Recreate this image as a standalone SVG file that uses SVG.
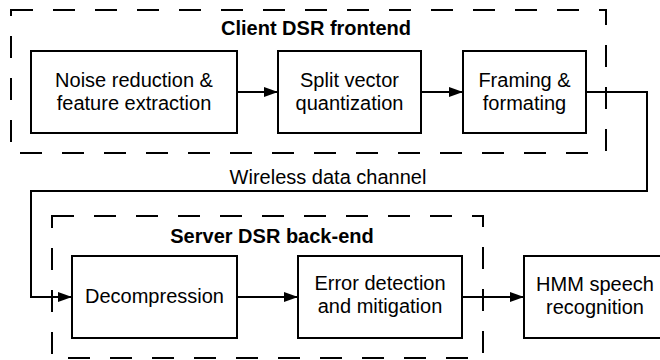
<svg xmlns="http://www.w3.org/2000/svg" width="660" height="360" viewBox="0 0 660 360">
<defs>
<marker id="ah" markerWidth="14" markerHeight="10" refX="14" refY="5" orient="auto" markerUnits="userSpaceOnUse">
<path d="M0,0 L14,5 L0,10 Z" fill="#000"/>
</marker>
<style>
.grp{fill:none;stroke:#000;stroke-width:2;stroke-dasharray:22 20}
.box{fill:#fff;stroke:#000;stroke-width:2}
.t{font-family:"Liberation Sans",Arial,sans-serif;font-size:20px;fill:#000;text-anchor:middle}
.b{font-weight:bold}
.c{fill:none;stroke:#000;stroke-width:2}
</style>
</defs>
<rect width="660" height="360" fill="#fff"/>
<g id="client-group">
<rect class="grp" x="11" y="10" width="595" height="143"/>
<text class="t b" x="316" y="35">Client DSR frontend</text>
</g>
<g id="server-group">
<rect class="grp" x="52" y="216" width="431" height="142"/>
<text class="t b" x="272" y="243">Server DSR back-end</text>
</g>
<g id="connectors">
<line class="c" x1="237" y1="92" x2="278" y2="92" marker-end="url(#ah)"/>
<line class="c" x1="421" y1="92" x2="463" y2="92" marker-end="url(#ah)"/>
<polyline class="c" points="586,92 647,92 647,191 31,191 31,297 72,297" marker-end="url(#ah)"/>
<line class="c" x1="237" y1="297" x2="298" y2="297" marker-end="url(#ah)"/>
<line class="c" x1="462" y1="297" x2="524" y2="297" marker-end="url(#ah)"/>
<text class="t" x="328" y="184">Wireless data channel</text>
</g>
<g id="noise">
<rect class="box" x="31" y="51" width="206" height="82"/>
<text class="t" x="134" y="87">Noise reduction &amp;</text>
<text class="t" x="134" y="110">feature extraction</text>
</g>
<g id="svq">
<rect class="box" x="278" y="51" width="143" height="82"/>
<text class="t" x="349.5" y="87">Split vector</text>
<text class="t" x="349.5" y="110">quantization</text>
</g>
<g id="framing">
<rect class="box" x="463" y="51" width="123" height="82"/>
<text class="t" x="524.5" y="87">Framing &amp;</text>
<text class="t" x="524.5" y="110">formating</text>
</g>
<g id="decomp">
<rect class="box" x="72" y="256" width="165" height="82"/>
<text class="t" x="154.5" y="303">Decompression</text>
</g>
<g id="error">
<rect class="box" x="298" y="256" width="164" height="82"/>
<text class="t" x="380" y="290">Error detection</text>
<text class="t" x="380" y="313">and mitigation</text>
</g>
<g id="hmm">
<rect class="box" x="524" y="256" width="142" height="82"/>
<text class="t" x="595" y="291">HMM speech</text>
<text class="t" x="595" y="314">recognition</text>
</g>
</svg>
